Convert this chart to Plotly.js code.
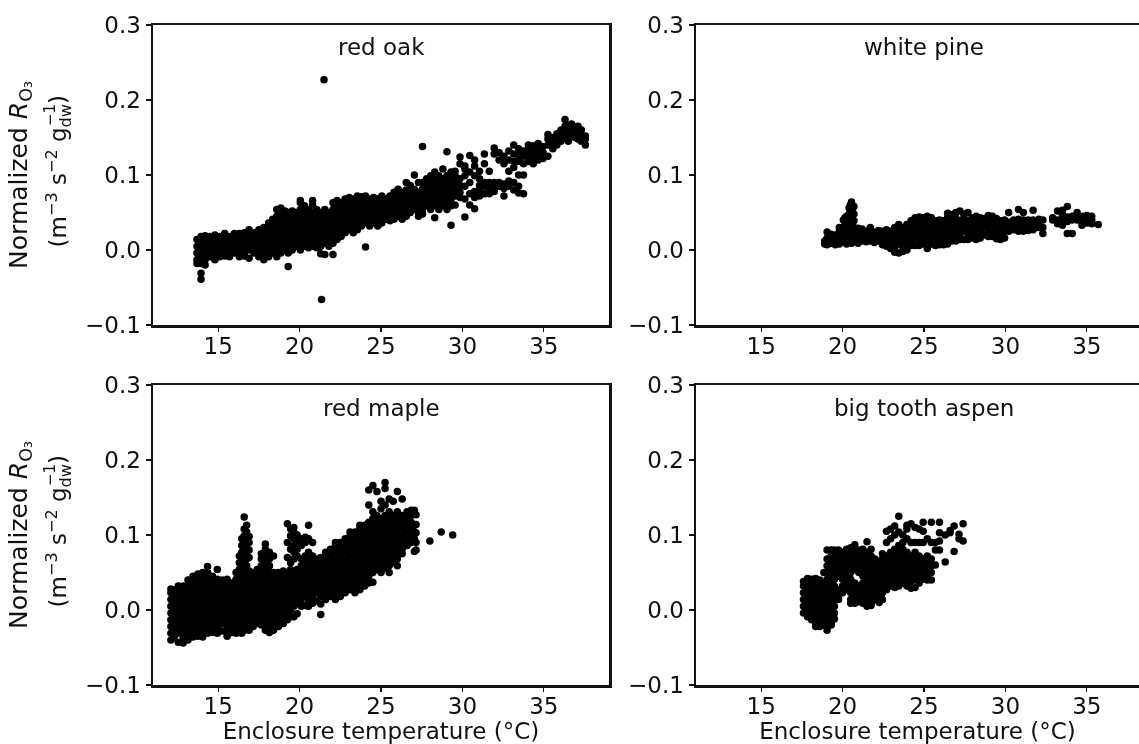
<!DOCTYPE html>
<html>
<head>
<meta charset="utf-8">
<script src="https://cdn.plot.ly/plotly-3.0.1.min.js"></script>
<style>html,body{margin:0;padding:0;background:#fff;overflow:hidden}#chart{filter:blur(0.5px)}</style>
</head>
<body>
<div id="chart"></div>
<script>
const speciesNames = ["red oak", "white pine", "red maple", "big tooth aspen"];
const tickT = [15, 20, 25, 30, 35];
const tickR = [-0.1, 0, 0.1, 0.2, 0.3];

const redOakT = [13.7,13.95,14.2,14.5,14.8,15.1,15.4,15.7,16,16.3,16.6,16.9,17.2,17.5,17.8,18.1,18.35,18.6,18.85,19.1,19.3,19.55,19.8,20.05,20.3,20.55,20.8,21.05,21.3,21.55,21.8,22.05,22.3,22.55,22.8,23.05,23.3,23.55,23.8,24.05,24.3,24.55,24.8,25.05,25.3,25.55,25.8,26.05,26.3,26.55,26.8,27.05,27.3,27.55,27.8,28.05,28.3,28.55,28.8,29.05,29.3,29.55,29.85,30.15,30.45,30.75,31.05,31.35,31.65,31.95,32.25,32.55,32.85,33.15,33.45,33.75,34.05,34.35,34.65,34.95,35.25,35.55,35.8,36.05,36.3,36.5,36.7,36.9,37.1,37.3,37.55];
const redOakR = [
[-.018,-.013,-.004,.005,.014],[-.018,-.009,0,.009,.018,-.031,-.039],[-.02,-.013,-.004,.005,.014,.019],[-.009,0,.009,.018],[-.013,-.004,.005,.014,.02],[-.009,0,.009,.018],[-.008,-.004,.005,.014,.022],[-.009,0,.009,.018],[-.004,.005,.014,.022],[-.009,0,.009,.018,.022],[-.008,-.004,.005,.014,.023],[-.011,0,.009,.018,.027],[-.004,.005,.014,.023],[-.009,0,.009,.018,.027],[-.013,-.004,.005,.014,.023,.03],[-.009,0,.009,.018,.027,.036],[-.004,.005,.014,.023,.032,.041],[-.009,0,.009,.018,.027,.036,.045,.054],[-.004,.005,.014,.023,.032,.041,.05,.056],[0,.009,.018,.027,.036,.045,.052],[-.022,-.004,.005,.014,.023,.032,.041,.05],[0,.009,.018,.027,.036,.045,.052],[.005,.014,.023,.032,.041,.05],[0,.009,.018,.027,.036,.045,.054,.063,.066],[.005,.014,.023,.032,.041,.05,.059],[.003,.009,.018,.027,.036,.045,.054],[.005,.014,.023,.032,.041,.05,.06,.066],[.003,.009,.018,.027,.036,.045,.054],[-.005,.005,.014,.023,.032,.041,.05],[-.006,.009,.018,.027,.036,.045,.054],[.005,.014,.023,.032,.041,.05],[-.006,.009,.018,.027,.036,.045,.054,.063],[.014,.023,.032,.041,.05,.059,.066],[.018,.027,.036,.045,.054,.063],[.023,.032,.041,.05,.059,.068],[.027,.036,.045,.054,.063,.07],[.023,.032,.041,.05,.059,.068],[.027,.036,.045,.054,.063,.072],[.032,.041,.05,.059,.068,.071],[.004,.036,.045,.054,.063,.072],[.032,.041,.05,.059,.068],[.036,.045,.054,.063,.07],[.032,.041,.05,.059,.068],[.036,.045,.054,.063,.072],[.041,.05,.059,.068],[.039,.045,.054,.063,.072],[.041,.05,.059,.068,.077],[.045,.054,.063,.072,.081],[.041,.05,.059,.068,.077],[.045,.054,.063,.072,.08,.09],[.05,.059,.068,.077,.086],[.054,.063,.072,.081,.1],[.045,.05,.059,.068,.077,.09],[.048,.054,.063,.072,.081,.09,.138],[.059,.068,.077,.086,.095],[.054,.063,.072,.081,.09,.099],[.043,.059,.068,.077,.086,.095,.104],[.054,.063,.072,.081,.09,.099],[.059,.068,.077,.086,.095,.108],[.054,.063,.072,.081,.09,.099,.131],[.033,.059,.068,.077,.086,.095,.104],[.06,.072,.081,.09,.099,.105],[.07,.077,.086,.095,.115,.124],[.044,.068,.085,.099,.108,.112],[.06,.075,.09,.104,.126],[.055,.07,.078,.099,.112,.12],[.072,.08,.086,.095,.105],[.075,.085,.09,.115,.128],[.075,.082,.09,.105],[.078,.085,.09,.136,.128],[.085,.09,.12,.13],[.072,.082,.088,.115,.125],[.085,.092,.105,.12,.132],[.08,.09,.11,.118,.128,.14],[.076,.085,.1,.118,.126,.135],[.075,.1,.115,.125,.132],[.118,.126,.135,.14],[.115,.124,.132,.139],[.12,.128,.136,.142],[.122,.13,.138],[.125,.14,.148,.154],[.135,.143,.15],[.14,.148,.155],[.145,.153,.16],[.15,.158,.165,.174],[.145,.152,.16,.166],[.152,.159,.168],[.15,.157,.164],[.148,.155,.165],[.145,.152,.16],[.14,.148,.152]
];
const oakOutlierT = [21.5, 21.35];
const oakOutlierR = [.227, -.066];

const whitePineT = [18.9,19.05,19.3,19.55,19.8,20.05,20.15,20.25,20.4,20.48,20.55,20.62,20.7,20.95,21.2,21.45,21.7,21.95,22.2,22.45,22.7,22.95,23.2,23.45,23.7,23.95,24.2,24.45,24.7,24.95,25.2,25.45,25.7,25.95,26.2,26.45,26.7,26.95,27.2,27.45,27.7,27.95,28.2,28.45,28.7,28.95,29.2,29.45,29.7,29.95,30.2,30.5,30.8,31.1,31.4,31.7,32.05,32.3,32.9,33.2,33.5,33.8,34.1,34.4,34.7,35,35.3,35.7];
const whitePineR = [
[.008,.012],[.007,.016,.024],[.009,.018,.021],[.007,.012,.02],[.008,.016,.025,.03],[.012,.021,.03,.04],[.025,.034,.043],[.008,.016,.025,.034,.045],[.012,.021,.03,.039,.048,.056],[.029,.038,.047,.06],[.009,.016,.025,.034,.043,.052,.064],[.03,.039,.047,.056],[.012,.021,.03,.039,.048,.058],[.009,.016,.025,.029],[.012,.021,.028],[.011,.016,.025],[.012,.021,.03],[.01,.016,.024],[.012,.021,.026],[.007,.016,.025],[.005,.012,.021,.027],[.002,.008,.016,.025],[-.003,.004,.012,.021,.03],[-.004,.008,.016,.025,.034],[-.002,.004,.012,.021,.03],[0,.008,.016,.025,.034],[.006,.012,.021,.03,.039],[.006,.016,.025,.034,.043],[.006,.012,.021,.03,.039,.044],[.008,.016,.025,.034,.043],[.002,.012,.021,.03,.039,.045],[.008,.016,.025,.034,.043],[.006,.012,.021,.03,.039],[.007,.016,.025,.034,.04],[.007,.012,.021,.03,.039],[.008,.016,.025,.034,.043,.049],[.012,.021,.03,.039,.047],[.012,.016,.025,.034,.043,.05],[.014,.021,.03,.039,.052],[.014,.025,.034,.043,.048],[.014,.021,.03,.039,.05],[.016,.025,.034,.043],[.014,.021,.03,.039,.045],[.016,.025,.034,.043],[.02,.03,.039,.042],[.018,.025,.034,.043,.046],[.018,.021,.03,.039,.045],[.015,.025,.034,.042],[.014,.021,.03,.039],[.016,.025,.034,.04],[.025,.03,.037,.05],[.027,.033,.04],[.025,.033,.041,.054],[.025,.033,.04,.05],[.026,.035,.04],[.027,.034,.04,.053],[.03,.036,.041],[.022,.03,.04],[.04,.043],[.035,.04,.052],[.033,.04,.047,.053],[.022,.038,.044,.058],[.022,.04,.045],[.04,.046,.05],[.033,.04,.045],[.036,.04,.046],[.035,.04,.045],[.034]
];

const redMapleT = [12.1,12.3,12.55,12.85,13.15,13.45,13.75,14.05,14.35,14.65,14.95,15.25,15.55,15.85,16.1,16.3,16.45,16.6,16.75,16.9,17.15,17.4,17.65,17.9,18.15,18.4,18.7,19,19.25,19.45,19.65,19.85,20.1,20.35,20.55,20.8,21.05,21.3,21.6,21.9,22.2,22.5,22.8,23.1,23.4,23.7,24,24.25,24.5,24.75,25,25.25,25.5,25.75,26,26.3,26.6,26.85,27.05,27.15,28,28.7,29.4];
const redMapleR = [
[-.04,-.031,-.022,-.013,-.004,.005,.014,.023,.028],[-.036,-.027,-.018,-.009,0,.009,.018,.027],[-.043,-.031,-.022,-.013,-.004,.005,.014,.023,.032],[-.044,-.036,-.027,-.018,-.009,0,.009,.018,.027,.032],[-.04,-.031,-.022,-.013,-.004,.005,.014,.023,.032,.04],[-.036,-.027,-.018,-.009,0,.009,.018,.027,.036,.045],[-.035,-.031,-.022,-.013,-.004,.005,.014,.023,.032,.041,.048],[-.036,-.027,-.018,-.009,0,.009,.018,.027,.036,.045,.05],[-.031,-.022,-.013,-.004,.005,.014,.023,.032,.041,.05,.058],[-.03,-.027,-.018,-.009,0,.009,.018,.027,.036,.045],[-.031,-.022,-.013,-.004,.005,.014,.023,.032,.041,.054],[-.028,-.018,-.009,0,.009,.018,.027,.036,.04],[-.035,-.031,-.022,-.013,-.004,.005,.014,.023,.032,.041],[-.03,-.027,-.018,-.009,0,.009,.018,.027,.036],[-.031,-.022,-.013,-.004,.005,.014,.023,.032,.041,.05],[-.03,-.027,-.018,-.009,0,.009,.018,.027,.036,.045,.054,.063,.072],[-.031,-.022,-.013,-.004,.005,.014,.023,.032,.041,.05,.059,.068,.077,.086,.095],[-.027,-.018,-.009,0,.009,.018,.027,.036,.045,.054,.063,.072,.081,.09,.099,.108,.124],[-.022,-.013,-.004,.005,.014,.023,.032,.041,.05,.059,.068,.077,.086,.095,.104,.113],[-.027,-.018,-.009,0,.009,.018,.027,.036,.045,.052,.07,.08,.09,.098],[-.022,-.013,-.004,.005,.014,.023,.032,.041,.05],[-.018,-.009,0,.009,.018,.027,.036,.045,.054],[-.02,-.013,-.004,.005,.014,.023,.032,.041,.05,.059,.068,.075],[-.027,-.018,-.009,0,.009,.018,.027,.036,.045,.054,.063,.072,.081,.088],[-.03,-.022,-.013,-.004,.005,.014,.023,.032,.041,.05,.059,.068,.077],[-.027,-.018,-.009,0,.009,.018,.027,.036,.045,.05,.072],[-.022,-.013,-.004,.005,.014,.023,.032,.041,.05],[-.018,-.009,0,.009,.018,.027,.036,.045,.052],[-.013,-.004,.005,.014,.023,.032,.041,.05,.07,.09,.115],[-.009,0,.009,.018,.027,.036,.045,.054,.063,.081,.099,.108],[-.009,.005,.014,.023,.032,.041,.05,.068,.077,.086,.095,.104,.11],[-.005,.009,.018,.027,.036,.045,.054,.072,.081,.09,.1],[.005,.014,.023,.032,.041,.05,.059,.068,.086,.095],[.006,.018,.027,.036,.045,.054,.063,.072,.09,.097],[.005,.014,.023,.032,.041,.05,.059,.068,.077,.095,.113],[.009,.018,.027,.036,.045,.054,.063,.072,.09],[.012,.023,.032,.041,.05,.059,.068],[-.006,.008,.018,.027,.036,.045,.054,.063,.07],[.014,.023,.032,.041,.05,.059,.068,.077],[.018,.027,.036,.045,.054,.063,.072,.081],[.014,.023,.032,.041,.05,.059,.068,.077,.086,.09],[.018,.027,.036,.045,.054,.063,.072,.081,.09],[.023,.032,.041,.05,.059,.068,.077,.086,.095],[.027,.036,.045,.054,.063,.072,.081,.09,.099,.104],[.023,.032,.041,.05,.059,.068,.077,.086,.095,.104],[.027,.036,.045,.054,.063,.072,.081,.09,.099,.108,.113],[.032,.041,.05,.059,.068,.077,.086,.095,.104,.113],[.036,.045,.054,.063,.072,.081,.09,.099,.108,.117,.14,.16],[.037,.05,.059,.068,.077,.086,.095,.104,.113,.122,.131,.166],[.054,.063,.072,.081,.09,.099,.108,.117,.126,.158],[.05,.059,.068,.077,.086,.095,.104,.113,.122,.135,.145],[.056,.063,.072,.081,.09,.099,.108,.117,.126,.14,.162,.17],[.05,.059,.068,.077,.086,.095,.104,.113,.122,.131,.148],[.063,.072,.081,.09,.099,.108,.117,.126,.145],[.059,.068,.077,.086,.095,.104,.113,.122,.131,.158],[.075,.081,.09,.099,.108,.117,.126,.148],[.086,.095,.104,.113,.122,.131],[.09,.099,.108,.117,.126,.133],[.078,.095,.104,.113,.133],[.08,.09,.103,.114,.127],[.092],[.104],[.1]
];

const aspenT = [17.6,17.85,18.1,18.35,18.6,18.85,19.05,19.3,19.5,19.75,20,20.25,20.5,20.75,21,21.25,21.5,21.75,22,22.25,22.45,22.7,22.95,23.2,23.45,23.7,23.95,24.2,24.45,24.7,24.95,25.2,25.45,25.7,25.95,26.3,26.6,26.85,27.15,27.4];
const aspenR = [
[-.004,.005,.014,.023,.032,.038],[-.009,0,.009,.018,.027,.036,.042],[-.013,-.004,.005,.014,.023,.032,.041],[-.022,-.018,-.009,0,.009,.018,.027,.036,.042],[-.022,-.013,-.004,.005,.014,.023,.032,.04],[-.02,-.018,-.009,0,.009,.018,.027,.036,.05],[-.027,-.022,-.013,-.004,.005,.014,.023,.032,.041,.05,.059,.068,.08],[-.02,-.018,-.009,0,.009,.018,.027,.036,.045,.054,.063,.072,.08],[-.012,-.004,.005,.014,.023,.032,.041,.05,.059,.068,.077,.08],[.014,.018,.027,.045,.054,.063,.072,.08],[.023,.032,.041,.05,.059,.068,.077],[.027,.036,.045,.054,.063,.072,.081],[.009,.014,.023,.032,.041,.05,.059,.068,.077,.083],[.009,.018,.027,.036,.054,.063,.072,.081,.087],[.011,.014,.023,.032,.05,.059,.068,.077,.08],[.009,.018,.027,.036,.045,.054,.063,.072,.081],[.005,.014,.023,.032,.041,.05,.059,.068,.077,.091],[.006,.009,.018,.027,.036,.045,.054,.063,.072,.081],[.014,.023,.032,.041,.05,.059,.068],[.01,.02,.027,.036,.045,.054,.063],[.014,.023,.032,.041,.05,.059,.068,.075],[.027,.036,.045,.054,.063,.072,.09,.105],[.032,.041,.05,.059,.068,.077,.095,.108],[.03,.036,.045,.054,.063,.072,.081,.1,.112],[.032,.041,.05,.059,.068,.077,.086,.104,.125],[.036,.045,.054,.063,.072,.081,.09,.1],[.032,.041,.05,.059,.068,.077,.095,.113,.108],[.029,.036,.045,.054,.063,.072,.09,.115],[.03,.041,.05,.059,.068,.077,.09,.11],[.036,.045,.054,.063,.072,.09,.108],[.041,.05,.059,.068,.09,.105,.117],[.04,.045,.054,.063,.072,.095],[.04,.05,.059,.068,.09,.117],[.06,.08,.09],[.08,.092,.103,.117],[.064,.1],[.103,.106],[.078,.112],[.095,.101],[.092,.115]
];

const seriesT = [redOakT, whitePineT, redMapleT, aspenT];
const seriesR = [redOakR, whitePineR, redMapleR, aspenR];

const W = 1139, H = 744;
const PANEL_W = 456, SCALE = PANEL_W / 28;
const lefts = [153, 696], tops = [25, 385], PANEL_H = 300;

const fam = '"DejaVu Sans", sans-serif';
const tickFont = {family: fam, size: 23, color: '#111'};
const layout = {
  width: W, height: H, showlegend: false,
  margin: {l: 0, r: 0, t: 0, b: 0},
  paper_bgcolor: '#fff', plot_bgcolor: '#fff',
  font: tickFont, annotations: []
};
const traces = [];
speciesNames.forEach((name, i) => {
  const col = i % 2, row = Math.floor(i / 2), n = i === 0 ? '' : String(i + 1);
  const left = lefts[col], top = tops[row];
  const right = Math.min(left + PANEL_W, W);
  const xs = seriesT[i].flatMap((t, k) => seriesR[i][k].map(() => t));
  const ys = seriesR[i].flat();
  traces.push({
    type: 'scatter', mode: 'markers', name: name, xaxis: 'x' + n, yaxis: 'y' + n,
    x: i === 0 ? xs.concat(oakOutlierT) : xs,
    y: i === 0 ? ys.concat(oakOutlierR) : ys,
    marker: {color: '#000', size: 7.5, line: {width: 0}},
    hoverinfo: 'skip'
  });
  const xa = {
    domain: [left / W, right / W], range: [11, 11 + (right - left) / SCALE],
    anchor: 'y' + n, tickmode: 'array', tickvals: tickT, ticks: 'outside', ticklen: 4, tickwidth: 1.2,
    ticklabelstandoff: -5,
    tickcolor: '#111', showgrid: false, zeroline: false, showline: true, linewidth: 2.5, linecolor: '#111', mirror: true,
    tickfont: tickFont
  };
  if (row === 1) xa.title = {text: 'Enclosure temperature (°C)', font: tickFont, standoff: 4};
  layout['xaxis' + n] = xa;
  const ya = {
    domain: [1 - (top + PANEL_H) / H, 1 - top / H], range: [-0.1, 0.3],
    anchor: 'x' + n, tickmode: 'array', tickvals: tickR, tickformat: '.1f', ticks: 'outside', ticklen: 5, tickwidth: 1.2,
    tickcolor: '#111', showgrid: false, zeroline: false, showline: true, linewidth: 2.5, linecolor: '#111', mirror: col === 0,
    tickfont: tickFont
  };
  if (col === 0) {
    ya.title = {text: 'Normalized <i>R</i><sub>O₃</sub>', font: {family: fam, size: 25, color: '#111'}, standoff: 51};
    layout.annotations.push({
      xref: 'paper', yref: 'paper', x: 58 / W, y: 1 - (top + 146.5) / H, textangle: -90, showarrow: false,
      text: '(m<sup>−3</sup> s<sup>−2</sup> g<sub>dw</sub>)', font: tickFont, xanchor: 'center', yanchor: 'middle'
    });
    layout.annotations.push({
      xref: 'paper', yref: 'paper', x: 50 / W, y: 1 - (top + 90) / H, textangle: -90, showarrow: false,
      text: '−1', font: {family: fam, size: 15, color: '#111'}, xanchor: 'center', yanchor: 'middle'
    });
  }
  layout['yaxis' + n] = ya;
  layout.annotations.push({
    xref: 'x' + n, yref: 'y' + n, x: 25, y: 0.27, text: name, showarrow: false,
    font: tickFont, xanchor: 'center', yanchor: 'middle'
  });
});
Plotly.newPlot('chart', traces, layout, {displayModeBar: false, responsive: false, staticPlot: true});
</script>
</body>
</html>
